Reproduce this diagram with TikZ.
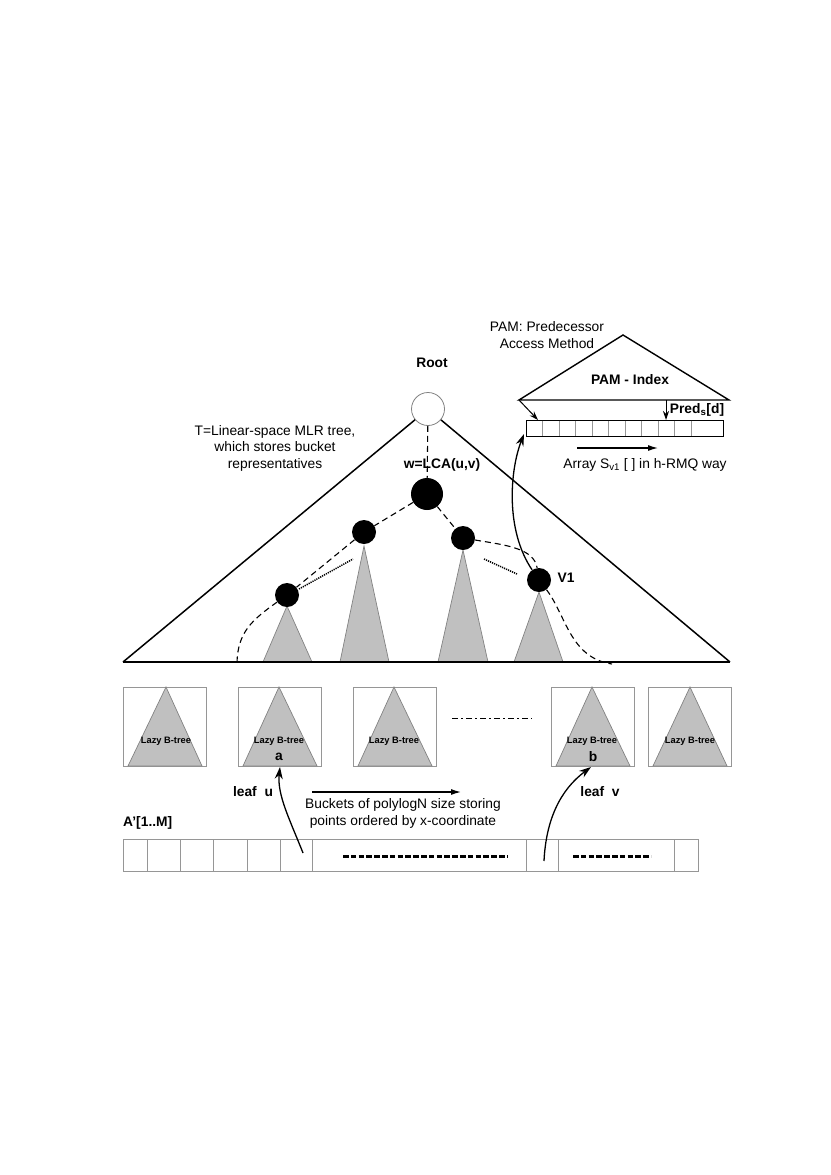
\documentclass[tikz,border=0pt]{standalone}
\usepackage{fontspec}
\setmainfont{Liberation Sans}
\usetikzlibrary{arrows.meta}
\definecolor{treefill}{RGB}{192,192,192}
\definecolor{treeedge}{RGB}{130,130,130}
\definecolor{boxgray}{RGB}{150,150,150}
\begin{document}
\begin{tikzpicture}[x=1pt,y=-1pt,
  txt/.style={font=\fontsize{13.8}{16.5}\selectfont, inner sep=0pt, align=center},
  btxt/.style={font=\fontsize{13.8}{16.5}\selectfont\bfseries, inner sep=0pt},
  smalltxt/.style={font=\fontsize{9.3}{10}\selectfont\bfseries, inner sep=0pt},
  blk/.style={circle, fill=black, inner sep=0pt, minimum size=24pt},
  gtri/.style={fill=treefill, draw=treeedge, line width=0.7pt},
  dsh/.style={line width=1.1pt, dash pattern=on 6pt off 4pt},
  dott/.style={line width=1.5pt, dash pattern=on 1.2pt off 1pt},
  arr/.style={line width=1.3pt, -{Stealth[length=12pt,width=8pt]}},
  harr/.style={line width=1.2pt, -{Latex[length=10pt,width=6pt]}},
  bigdash/.style={line width=3pt, dash pattern=on 5.5pt off 2.3pt},
  bucket/.style={draw=boxgray, line width=0.8pt},
]
\useasboundingbox (0,0) rectangle (830,1175);

% ---------- gray subtrees in main tree ----------
\filldraw[gtri] (287,606) -- (263,662) -- (312,662) -- cycle;
\filldraw[gtri] (364,546) -- (340,662) -- (389,662) -- cycle;
\filldraw[gtri] (463,550) -- (438,662) -- (488,662) -- cycle;
\filldraw[gtri] (539,592) -- (514,662) -- (563,662) -- cycle;

% ---------- nodes of the main tree ----------
\node[circle, draw=treeedge, fill=white, line width=0.8pt, inner sep=0pt, minimum size=33pt] (root) at (428,409) {};
\node[blk, minimum size=32pt] (w) at (427,494) {};
\node[blk] (n1) at (364,532) {};
\node[blk] (n2) at (287,595) {};
\node[blk] (n3) at (463,538) {};
\node[blk] (v1) at (539,580) {};

\coordinate (L) at (123,662);
\coordinate (R) at (730,662);
\draw[line width=1.5pt] (root) -- (L);
\draw[line width=1.5pt] (L) -- (R);
\draw[line width=1.5pt] (R) -- (root);

% ---------- dashed search paths ----------
\coordinate (lend) at (237,662);
\coordinate (rend) at (612,664);
\draw[dsh] (root) -- (w);
\draw[dsh] (w) -- (n1);
\draw[dsh] (n1) -- (n2);
\draw[dsh] (n2) .. controls (252,620) and (238,632) .. (lend);
\draw[dsh] (w) -- (n3);
\draw[dsh] (n3) .. controls (505,545) and (534,548) .. (v1);
\draw[dsh] (v1) .. controls (566,615) and (570,658) .. (rend);

% ---------- dotted lines ----------
\coordinate (d1a) at (299,589);
\coordinate (d1b) at (353,559);
\coordinate (d2a) at (484,559);
\coordinate (d2b) at (517,574);
\draw[dott] (d1a) -- (d1b);
\draw[dott] (d2a) -- (d2b);

% ---------- labels of main tree ----------
\node[btxt] (rootlbl) at (432,363) {Root};
\node[btxt] (wlbl) at (442,465) {w=LCA(u,v)};
\node[btxt] (v1lbl) at (566,578) {V1};
\node[txt] (tlbl) at (275,448) {T=Linear-space MLR tree,\\which stores bucket\\representatives};

% ---------- PAM structure ----------
\coordinate (pA) at (623,335);
\coordinate (pL) at (519,400);
\coordinate (pR) at (729,400);
\draw[line width=1.4pt] (pL) -- (pA) -- (pR) -- cycle;
\node[txt] (pamtxt) at (547,335) {PAM: Predecessor\\Access Method};
\node[btxt] (pamidx) at (630,380) {PAM - Index};

\node[draw, line width=1pt, minimum width=197pt, minimum height=16pt, inner sep=0pt] (arr) at (624.5,428) {};
\foreach \xx in {542,559,575,592,608,625,641,658,674,691}
  \draw[boxgray, line width=0.7pt] (\xx,420.5) -- (\xx,435.5);

\coordinate (parrs) at (538,420);
\draw[line width=1pt, -{Stealth[length=9pt,width=6pt]}] (pL) -- (parrs);
\coordinate (predtop) at (666,400);
\coordinate (predbot) at (666,420);
\draw[line width=1pt, -{Stealth[length=9pt,width=6pt]}] (predtop) -- (predbot);
\node[btxt] (predlbl) at (697,410) {Pred\textsubscript{s}[d]};

\coordinate (sa) at (577,448);
\coordinate (sb) at (658,448);
\draw[harr] (sa) -- (sb);
\node[txt] (arrlbl) at (645,465) {Array S\textsubscript{v1} [ ] in h-RMQ way};

\coordinate (arrin) at (524,434);
\draw[arr] (v1) .. controls (505,530) and (510,470) .. (arrin);

% ---------- buckets (lazy B-trees) ----------
\foreach \bx/\ax/\nm in {123/166/b1, 238/279/b2, 353/394/b3, 551/592/b4, 648/690/b5} {
  \node[bucket, minimum width=83pt, minimum height=79pt, inner sep=0pt] (\nm) at (\bx+41.5,726.5) {};
  \filldraw[gtri] (\ax,687) -- (\bx+5,766) -- (\bx+79,766) -- cycle;
  \node[smalltxt] (\nm lbl) at (\ax,741) {Lazy B-tree};
}
\coordinate (dd1) at (452,718);
\coordinate (dd2) at (532,718);
\draw[line width=0.9pt, dash pattern=on 6pt off 3pt on 2pt off 3pt] (dd1) -- (dd2);
\node[btxt] (alb) at (279,757) {a};
\node[btxt] (blb) at (593,757) {b};

% ---------- array A' ----------
\draw[bucket] (123,839) rectangle (698,871);
\foreach \xx in {147,180,213,247,280,312,526,558,674}
  \draw[bucket] (\xx,839) -- (\xx,871);
\coordinate (da1) at (343,856);
\coordinate (da2) at (507,856);
\coordinate (db1) at (573,856);
\coordinate (db2) at (651,856);
\draw[bigdash] (da1) -- (da2);
\draw[bigdash] (db1) -- (db2);
\node[btxt, anchor=west] (alab) at (123,823) {A'[1..M]};

\node[btxt] (leafu) at (253,792) {leaf\ \ u};
\node[btxt] (leafv) at (600,792) {leaf\ \ v};
\node[txt] (bucktxt) at (403,813.5) {Buckets of polylogN size storing\\points ordered by x-coordinate};
\coordinate (ha) at (312,792);
\coordinate (hb) at (461,792);
\draw[harr] (ha) -- (hb);

\coordinate (us) at (303,853);
\coordinate (ut) at (280,767);
\draw[arr] (us) .. controls (290,820) and (277,795) .. (ut);
\coordinate (vs) at (544,861);
\coordinate (vt) at (591,767);
\draw[arr] (vs) .. controls (546,820) and (560,790) .. (vt);
\end{tikzpicture}
\end{document}
